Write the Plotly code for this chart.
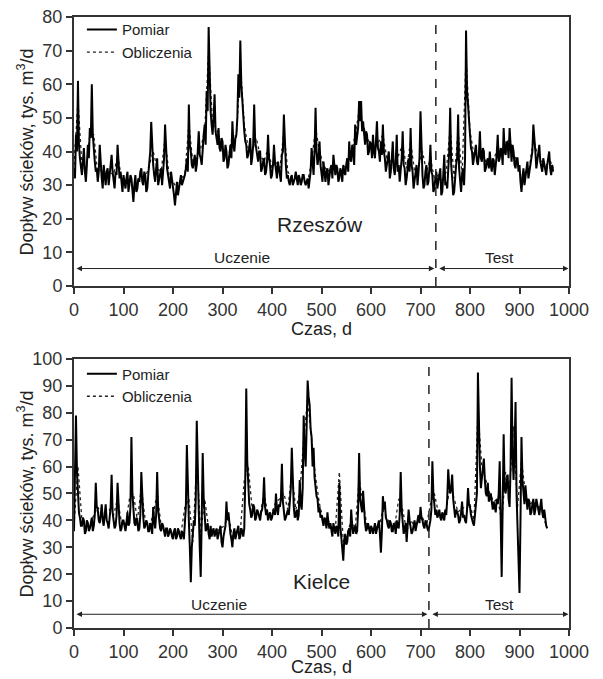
import plotly.graph_objects as go

# ---------------- data ----------------
# Rzeszow, measured (Pomiar): values at days 0, 4, 8, ...
rz_pomiar_a = [
    35, 45, 61, 38, 33, 41, 31, 42, 47, 60, 40, 34, 31, 42, 32, 36, 30, 35, 33, 39, 31, 34, 42, 32, 30,
    33, 29, 34, 30, 32, 25, 33, 29, 31, 35, 30, 33, 29, 37, 48.8, 36, 31, 38, 32, 35, 33, 48, 35, 31, 34,
    30, 24, 31, 29, 33, 31, 33, 38, 54, 40, 35, 39, 36, 46, 38, 42, 48, 58, 77, 52, 45, 57, 44, 47, 40,
    43, 38, 40, 36, 42, 49, 40, 45, 63, 73, 55, 46, 42, 39, 44, 38, 54, 41, 37, 40, 35, 38, 34, 45, 36,
    33, 42, 35, 37, 33, 39, 51, 36, 33, 30, 33, 31, 34, 30, 32, 31, 33, 30, 32, 31, 41, 33, 53, 36, 43,
    34, 37, 31, 35, 33, 36, 39, 33, 35, 32, 34, 36, 33, 38, 43, 37, 40, 48, 44, 55, 55, 49, 42, 45, 40,
    42, 45, 38, 49, 40, 43, 48, 38, 36, 40, 34, 43, 33, 45, 36, 34, 46, 35, 32, 38, 47, 34, 31, 36, 33,
    52, 33, 30, 36, 31, 42, 33, 29, 34, 31, 35, 28, 39, 31, 34, 53, 32, 28, 36, 51, 30, 33, 30, 76, 54,
    45, 40, 38, 42, 36, 46, 37, 40, 35, 38, 40, 34, 37, 36, 45, 38, 40, 47, 39, 42, 47, 37, 40, 35, 38,
    36, 28, 35, 33, 37, 34, 38, 48, 40, 37, 42, 35, 38, 34, 36, 40, 33, 34,
]
# Rzeszow, measured (Pomiar): values at days 2, 6, 10, ...
rz_pomiar_b = [
    32, 40, 42, 36, 37, 34, 36, 38, 44, 45, 37, 35, 34, 36, 29, 33, 34, 30, 35, 34, 29, 33, 35, 34, 28,
    31, 32, 28, 33, 29, 30, 28, 32, 34, 31, 34, 28, 33, 40, 40, 33, 35, 30, 34, 30, 38, 38, 33, 29, 32,
    27, 28, 27, 31, 30, 32, 35, 34, 42, 36, 37, 34, 40, 39, 36, 45, 42, 52, 60, 48, 50, 46, 42, 41, 44,
    37, 42, 35, 39, 38, 42, 44, 50, 56, 60, 48, 43, 38, 41, 36, 42, 43, 38, 40, 34, 37, 33, 37, 38, 32,
    36, 37, 32, 35, 31, 40, 40, 32, 31, 32, 30, 32, 31, 33, 30, 33, 31, 31, 29, 34, 35, 40, 40, 38, 36,
    31, 33, 34, 30, 35, 32, 35, 36, 31, 35, 31, 34, 36, 34, 38, 42, 36, 42, 47, 49, 46, 44, 46, 39, 43,
    38, 40, 43, 41, 37, 39, 40, 34, 38, 32, 38, 35, 37, 34, 31, 38, 36, 30, 35, 34, 36, 29, 34, 30, 38,
    38, 29, 34, 30, 35, 34, 28, 32, 29, 33, 27, 33, 30, 29, 40, 36, 27, 33, 38, 35, 28, 35, 38, 58, 48,
    41, 36, 40, 37, 39, 38, 41, 34, 37, 35, 36, 38, 33, 39, 37, 41, 36, 40, 43, 38, 40, 42, 36, 38, 34,
    31, 32, 30, 35, 32, 36, 40, 42, 35, 39, 37, 34, 36, 33, 38, 35, 36,
]
# Rzeszow, computed (Obliczenia): values at days 0, 8, 16, ...
rz_oblicz = [
    36, 55, 36, 34, 45, 45, 33, 35, 32, 34, 33, 39, 32,
    31, 31, 29, 31, 33, 32, 36, 40, 35, 34, 44, 33,
    31, 29, 32, 33, 48, 37, 38, 41, 46, 70, 48, 47, 42,
    40, 38, 45, 44, 66, 48, 41, 40, 44, 39, 37, 41,
    35, 37, 35, 46, 34, 32, 32, 32, 32, 31, 37, 47, 40,
    36, 34, 35, 35, 33, 35, 37, 39, 45, 52, 48, 44,
    42, 41, 43, 45, 38, 37, 37, 39, 42, 35, 43, 34, 36,
    40, 34, 38, 32, 33, 31, 34, 47, 32, 46, 33, 68,
    46, 39, 38, 40, 37, 38, 37, 42, 39, 42, 44, 39, 37,
    32, 34, 35, 44, 39, 37, 35, 38, 35,
]
# Kielce, measured (Pomiar): values at days 0, 4, 8, ...
ki_pomiar_a = [
    36, 79, 48, 41, 38, 40, 36, 39, 37, 41, 38, 54, 44, 39, 46, 38, 46, 39, 41, 57, 40, 38, 54, 39, 37,
    40, 36, 43, 39, 71, 42, 38, 40, 37, 58, 41, 38, 39, 36, 38, 45, 37, 58, 40, 36, 38, 34, 37, 35, 36,
    33, 37, 34, 36, 33, 35, 38, 68, 40, 17, 36, 38, 77, 44, 19, 65, 42, 37, 35, 38, 36, 34, 37, 35, 38,
    30, 36, 47, 43, 35, 30, 37, 35, 38, 34, 36, 37, 89, 52, 44, 42, 45, 41, 43, 40, 44, 56, 42, 40, 43,
    41, 44, 50, 42, 45, 61, 43, 41, 44, 48, 67, 45, 42, 40, 55, 44, 79, 60, 92, 83, 71, 67, 52, 48, 45,
    42, 38, 40, 43, 37, 36, 39, 35, 37, 54, 34, 25, 35, 32, 37, 44, 35, 38, 36, 65, 45, 51, 39, 37, 36,
    38, 35, 39, 37, 40, 28, 49, 47, 40, 37, 39, 36, 38, 40, 37, 58, 39, 37, 32, 44, 38, 36, 40, 38, 42,
    45, 40, 37, 39, 36, 40, 62, 47, 44, 42, 41, 43, 40, 42, 59, 50, 57, 45, 44, 42, 40, 47, 42, 39, 52,
    45, 40, 38, 44, 95, 60, 55, 63, 50, 54, 48, 46, 47, 43, 46, 62, 19, 72, 50, 57, 45, 93, 55, 84, 40,
    13, 71, 48, 53, 44, 47, 43, 48, 44, 46, 42, 48, 41, 40, 37,
]
# Kielce, measured (Pomiar): values at days 2, 6, 10, ...
ki_pomiar_b = [
    52, 58, 43, 38, 41, 35, 40, 36, 40, 36, 42, 45, 40, 42, 40, 42, 40, 37, 45, 43, 37, 42, 42, 36, 40,
    38, 39, 38, 45, 50, 39, 41, 36, 42, 45, 37, 40, 36, 39, 35, 40, 42, 44, 37, 39, 35, 37, 34, 37, 34,
    36, 33, 37, 34, 36, 33, 45, 48, 30, 30, 40, 48, 52, 30, 40, 48, 36, 39, 33, 34, 37, 36, 33, 36, 32,
    34, 38, 40, 37, 33, 35, 33, 37, 33, 37, 34, 55, 62, 46, 41, 46, 40, 44, 41, 43, 47, 45, 44, 42, 40,
    43, 42, 44, 46, 48, 47, 40, 43, 42, 52, 50, 41, 44, 42, 46, 52, 66, 75, 86, 74, 60, 56, 49, 43, 41,
    39, 41, 37, 39, 39, 34, 37, 38, 34, 38, 31, 33, 31, 36, 34, 38, 37, 35, 44, 48, 43, 42, 36, 39, 35,
    37, 38, 35, 39, 35, 36, 44, 41, 38, 40, 36, 39, 35, 38, 42, 44, 35, 39, 37, 40, 35, 39, 36, 40, 39,
    41, 38, 40, 37, 38, 44, 50, 42, 41, 44, 40, 41, 44, 48, 53, 52, 48, 41, 43, 39, 43, 41, 40, 44, 46,
    42, 39, 42, 50, 70, 52, 58, 55, 49, 47, 50, 44, 45, 48, 50, 40, 45, 52, 54, 48, 60, 65, 66, 50, 26,
    40, 55, 46, 46, 48, 42, 46, 42, 48, 43, 45, 43, 44, 38,
]
# Kielce, computed (Obliczenia): values at days 0, 8, 16, ...
ki_oblicz = [
    38, 60, 40, 38, 38, 42, 45, 42, 43, 44, 42, 48, 39,
    38, 48, 50, 40, 52, 40, 38, 42, 50, 38, 36, 36,
    35, 35, 35, 45, 48, 32, 62, 35, 48, 37, 36, 36, 37,
    38, 42, 34, 36, 36, 55, 60, 44, 43, 42, 50, 42,
    43, 47, 48, 50, 44, 58, 44, 50, 70, 85, 70, 56, 46,
    40, 41, 37, 37, 58, 32, 35, 40, 37, 55, 47, 38,
    37, 38, 37, 44, 41, 38, 38, 48, 44, 36, 40, 38, 41,
    41, 38, 46, 50, 43, 42, 44, 53, 48, 43, 45, 44,
    46, 40, 80, 60, 55, 50, 47, 48, 40, 58, 52, 75, 45,
    62, 50, 46, 47, 45, 45, 39,
]

x_ticks = [0, 100, 200, 300, 400, 500, 600, 700, 800, 900, 1000]
rz_split = 731
ki_split = 717


def merge(a, b):
    """Put the day-0,4,8 readings and the day-2,6,10 readings in day order."""
    days, vals = [], []
    for i, v in enumerate(a):
        days.append(4 * i)
        vals.append(v)
        if i < len(b):
            days.append(4 * i + 2)
            vals.append(b[i])
    return days, vals


rz_days_p, rz_pomiar = merge(rz_pomiar_a, rz_pomiar_b)
ki_days_p, ki_pomiar = merge(ki_pomiar_a, ki_pomiar_b)
rz_days_o = list(range(0, 8 * len(rz_oblicz), 8))
ki_days_o = list(range(0, 8 * len(ki_oblicz), 8))

# ---------------- figure ----------------
FONT = "Liberation Sans, Arial, sans-serif"
TXT = "#222222"
LINE = "#333333"

fig = go.Figure()

fig.add_trace(go.Scatter(x=rz_days_o, y=rz_oblicz, mode="lines", name="Obliczenia",
                         line=dict(color="#222222", width=1.3, dash="dot"),
                         xaxis="x", yaxis="y", legend="legend", legendrank=2))
fig.add_trace(go.Scatter(x=rz_days_p, y=rz_pomiar, mode="lines", name="Pomiar",
                         line=dict(color="#000000", width=2),
                         xaxis="x", yaxis="y", legend="legend", legendrank=1))
fig.add_trace(go.Scatter(x=ki_days_o, y=ki_oblicz, mode="lines", name="Obliczenia",
                         line=dict(color="#222222", width=1.3, dash="dot"),
                         xaxis="x2", yaxis="y2", legend="legend2", legendrank=2))
fig.add_trace(go.Scatter(x=ki_days_p, y=ki_pomiar, mode="lines", name="Pomiar",
                         line=dict(color="#000000", width=2),
                         xaxis="x2", yaxis="y2", legend="legend2", legendrank=1))

axis_common = dict(showline=True, linecolor=LINE, linewidth=2, mirror=True,
                   ticks="outside", ticklen=6, tickwidth=1.5, tickcolor=LINE,
                   showgrid=False, zeroline=False, automargin=False,
                   ticklabeloverflow="allow",
                   tickfont=dict(family=FONT, size=18, color=LINE))

top_dom = [0.5597, 1.0]
bot_dom = [0.0, 0.4403]

# the page has an 8px body margin, so the figure is 8px smaller and margins shifted
fig.update_layout(
    width=595, height=671,
    margin=dict(l=66, r=34, t=9, b=51, pad=0, autoexpand=False),
    paper_bgcolor="white", plot_bgcolor="white",
    font=dict(family=FONT, color=TXT),
    xaxis=dict(range=[0, 1000], tickvals=x_ticks, anchor="y", domain=[0, 1], **axis_common),
    yaxis=dict(range=[0, 80], dtick=10, anchor="x", domain=top_dom, **axis_common),
    xaxis2=dict(range=[0, 1000], tickvals=x_ticks, anchor="y2", domain=[0, 1], **axis_common),
    yaxis2=dict(range=[0, 100], dtick=10, anchor="x2", domain=bot_dom, **axis_common),
    legend=dict(x=0.016, y=1.006, xanchor="left", yanchor="top",
                bgcolor="rgba(0,0,0,0)", font=dict(family=FONT, size=15, color=TXT),
                tracegroupgap=0, itemwidth=30),
    legend2=dict(x=0.016, y=0.4427, xanchor="left", yanchor="top",
                 bgcolor="rgba(0,0,0,0)", font=dict(family=FONT, size=15, color=TXT),
                 tracegroupgap=0, itemwidth=30),
    showlegend=True,
)

# split lines
fig.add_shape(type="line", xref="x", yref="y", x0=rz_split, x1=rz_split, y0=0, y1=80,
              line=dict(color=TXT, width=1.5, dash="dash"))
fig.add_shape(type="line", xref="x2", yref="y2", x0=ki_split, x1=ki_split, y0=0, y1=100,
              line=dict(color=TXT, width=1.5, dash="dash"))

ann = []


def arrow(xr, yr, x0, x1, y):
    ann.append(dict(xref=xr, yref=yr, axref=xr, ayref=yr, x=x1, y=y, ax=x0, ay=y,
                    text="", showarrow=True, arrowside="end+start", arrowhead=2,
                    arrowsize=1.1, arrowwidth=1, arrowcolor=TXT, standoff=0, startstandoff=0))


arrow("x", "y", 2, rz_split - 3, 5.2)
arrow("x", "y", rz_split + 4, 999, 5.2)
arrow("x2", "y2", 2, ki_split - 3, 5.1)
arrow("x2", "y2", ki_split + 4, 999, 5.1)


def label(xr, yr, x, y, text, size):
    ann.append(dict(xref=xr, yref=yr, x=x, y=y, text=text, showarrow=False,
                    font=dict(family=FONT, size=size, color=TXT)))


label("x", "y", 340, 8.6, "Uczenie", 15.5)
label("x", "y", 860, 8.6, "Test", 15.5)
label("x", "y", 497, 18.2, "Rzeszów", 21)
label("x2", "y2", 293, 8.8, "Uczenie", 15.5)
label("x2", "y2", 859, 8.8, "Test", 15.5)
label("x2", "y2", 500, 17.1, "Kielce", 21)

ytitle = "Dopływ ścieków, tys. m<sup>3</sup>/d"
for dom in (top_dom, bot_dom):
    ann.append(dict(xref="paper", yref="paper", x=-0.097, y=(dom[0] + dom[1]) / 2,
                    text=ytitle, textangle=-90, showarrow=False, xanchor="center", yanchor="middle",
                    font=dict(family=FONT, size=18, color=TXT)))

# x titles
ann.append(dict(xref="paper", yref="paper", x=0.5, y=(628 - 329) / 611, text="Czas, d",
                showarrow=False, xanchor="center", yanchor="middle",
                font=dict(family=FONT, size=18, color=TXT)))
ann.append(dict(xref="paper", yref="paper", x=0.5, y=(628 - 667) / 611, text="Czas, d",
                showarrow=False, xanchor="center", yanchor="middle",
                font=dict(family=FONT, size=18, color=TXT)))

fig.update_layout(annotations=ann)

fig.write_html("out.html")
